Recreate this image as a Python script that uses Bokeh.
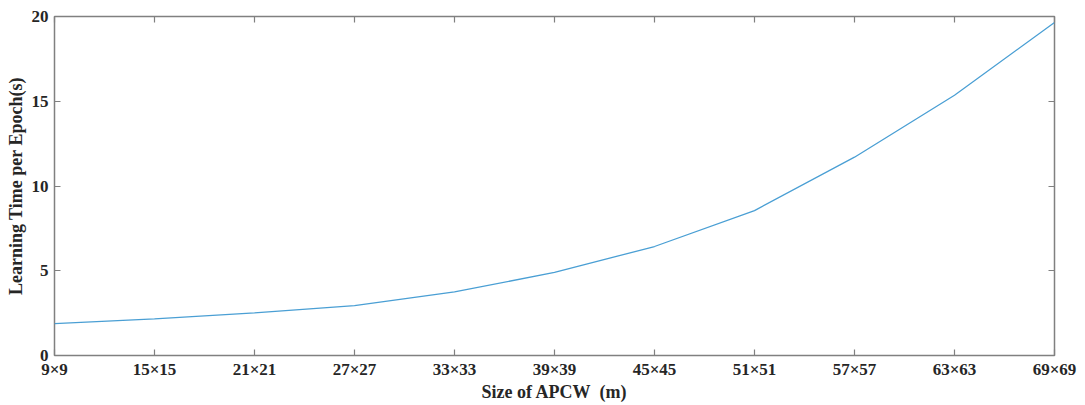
from bokeh.plotting import figure
from bokeh.models import LinearAxis, Range1d, FixedTicker
from bokeh.embed import file_html
from bokeh.resources import INLINE

categories = ["9×9", "15×15", "21×21", "27×27", "33×33", "39×39",
              "45×45", "51×51", "57×57", "63×63", "69×69"]
learning_time = [1.88, 2.16, 2.51, 2.94, 3.75, 4.9, 6.43, 8.55, 11.7, 15.35, 19.65]
y_ticks = [0, 5, 10, 15, 20]

FONT = "Liberation Serif"
AX = "#808080"
TXT = "#262626"

xs = list(range(len(categories)))

p = figure(width=1080, height=404, output_backend="svg", toolbar_location=None,
           x_range=Range1d(0, len(categories) - 1), y_range=Range1d(0, 20),
           min_border_left=54, min_border_right=26, min_border_top=16, min_border_bottom=48)
p.xgrid.visible = False
p.ygrid.visible = False
p.outline_line_color = AX
p.outline_line_width = 1.5
p.background_fill_color = "white"
p.border_fill_color = "white"

p.line(xs, learning_time, line_color="#4A9FD4", line_width=1.3)

def style(ax, labels=True):
    ax.axis_line_color = None
    ax.major_tick_line_color = AX
    ax.major_tick_line_width = 1.2
    ax.major_tick_in = 6
    ax.major_tick_out = 0
    ax.minor_tick_line_color = None
    ax.major_label_text_font = FONT
    ax.major_label_text_font_style = "bold"
    ax.major_label_text_font_size = "17px"
    ax.major_label_text_color = TXT
    ax.axis_label_text_font = FONT
    ax.axis_label_text_font_style = "bold"
    ax.axis_label_text_font_size = "18px"
    ax.axis_label_text_color = TXT
    if not labels:
        ax.major_label_text_font_size = "0px"

xa = p.xaxis[0]
style(xa)
xa.ticker = FixedTicker(ticks=xs)
xa.major_label_overrides = {i: c for i, c in enumerate(categories)}
xa.major_label_standoff = 4
xa.axis_label = "Size of APCW\u00a0 (m)"
xa.axis_label_standoff = 0

ya = p.yaxis[0]
style(ya)
ya.ticker = FixedTicker(ticks=y_ticks)
ya.major_label_standoff = 6
ya.axis_label = "Learning Time per Epoch(s)"
ya.axis_label_standoff = 3

top = LinearAxis(ticker=FixedTicker(ticks=xs))
style(top, labels=False)
p.add_layout(top, "above")
right = LinearAxis(ticker=FixedTicker(ticks=y_ticks))
style(right, labels=False)
p.add_layout(right, "right")

open("out.html", "w").write(file_html(p, INLINE))
